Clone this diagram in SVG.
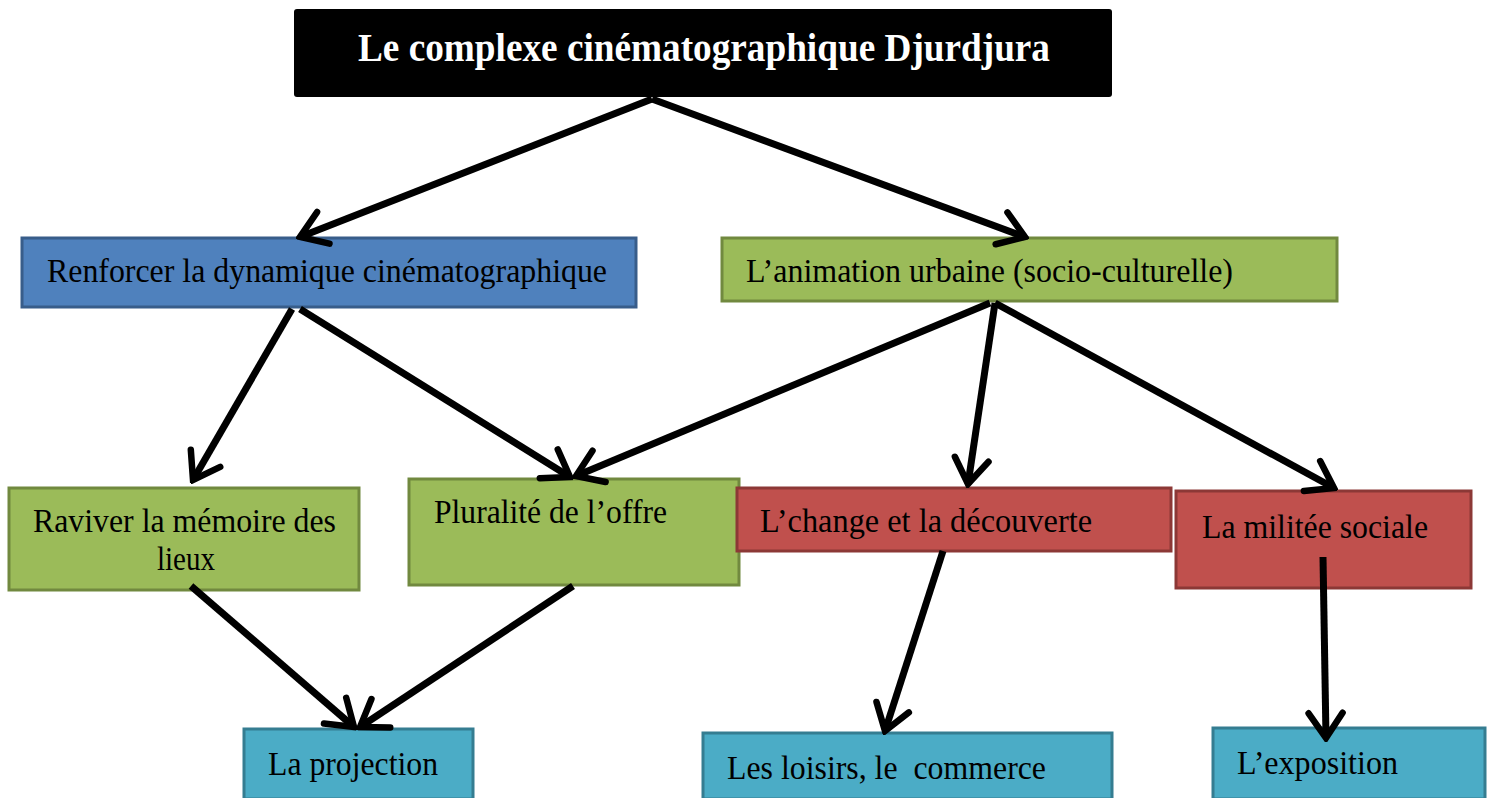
<svg xmlns="http://www.w3.org/2000/svg" width="1493" height="798" viewBox="0 0 1493 798">
<style>
.t{font-family:"Liberation Serif","Times New Roman",serif;font-size:34px;fill:#000}
.title{font-family:"Liberation Serif","Times New Roman",serif;font-size:39px;font-weight:bold;fill:#fff}
.blue{fill:#4F81BD;stroke:#385D8A;stroke-width:3}
.green{fill:#9BBB59;stroke:#71893F;stroke-width:3}
.red{fill:#C0504D;stroke:#8C3836;stroke-width:3}
.teal{fill:#4BACC6;stroke:#357D91;stroke-width:3}
.c{stroke:#000;stroke-width:7;fill:none;stroke-linecap:butt}
</style>
<defs>
<marker id="ah" markerUnits="userSpaceOnUse" viewBox="-32 -22 36 44" refX="0" refY="0" markerWidth="36" markerHeight="44" orient="auto">
<path d="M-25,-17 L0,0 L-25,17" fill="none" stroke="#000" stroke-width="6.5" stroke-linecap="round" stroke-linejoin="miter"/>
</marker>
</defs>
<rect width="1493" height="798" fill="#fff"/>
<g id="title">
<rect x="294" y="9" width="818" height="88" rx="3" fill="#000"/>
<text class="title" x="358" y="61" textLength="692" lengthAdjust="spacingAndGlyphs">Le complexe cinématographique Djurdjura</text>
</g>
<g id="renforcer">
<rect class="blue" x="22" y="238" width="614" height="69"/>
<text class="t" x="47" y="282" textLength="560" lengthAdjust="spacingAndGlyphs">Renforcer la dynamique cinématographique</text>
</g>
<g id="animation">
<rect class="green" x="722" y="238" width="615" height="63"/>
<text class="t" x="746" y="282" textLength="487" lengthAdjust="spacingAndGlyphs">L’animation urbaine (socio-culturelle)</text>
</g>
<g id="raviver">
<rect class="green" x="9" y="488" width="350" height="102"/>
<text class="t" x="33" y="532" textLength="303" lengthAdjust="spacingAndGlyphs">Raviver la mémoire des</text>
<text class="t" x="157" y="570" textLength="58" lengthAdjust="spacingAndGlyphs">lieux</text>
</g>
<g id="pluralite">
<rect class="green" x="409" y="479" width="330" height="106"/>
<text class="t" x="434" y="523" textLength="233" lengthAdjust="spacingAndGlyphs">Pluralité de l’offre</text>
</g>
<g id="change">
<rect class="red" x="737" y="488" width="434" height="63"/>
<text class="t" x="760" y="532" textLength="332" lengthAdjust="spacingAndGlyphs">L’change et la découverte</text>
</g>
<g id="militee">
<rect class="red" x="1176" y="491" width="295" height="97"/>
<text class="t" x="1202" y="538" textLength="226" lengthAdjust="spacingAndGlyphs">La militée sociale</text>
</g>
<g id="projection">
<rect class="teal" x="244" y="729" width="229" height="70"/>
<text class="t" x="268" y="775" textLength="170" lengthAdjust="spacingAndGlyphs">La projection</text>
</g>
<g id="loisirs">
<rect class="teal" x="703" y="733" width="409" height="66"/>
<text class="t" x="727" y="779" textLength="319" lengthAdjust="spacingAndGlyphs" xml:space="preserve">Les loisirs, le  commerce</text>
</g>
<g id="exposition">
<rect class="teal" x="1213" y="728" width="272" height="71"/>
<text class="t" x="1237" y="774" textLength="161" lengthAdjust="spacingAndGlyphs">L’exposition</text>
</g>
<g id="connectors">
<line class="c" x1="652" y1="99" x2="300" y2="237" marker-end="url(#ah)"/>
<line class="c" x1="652" y1="99" x2="1025" y2="237" marker-end="url(#ah)"/>
<line class="c" x1="292" y1="309" x2="193" y2="480" marker-end="url(#ah)"/>
<line class="c" x1="300" y1="309" x2="570" y2="477" marker-end="url(#ah)"/>
<line class="c" x1="990" y1="303" x2="576" y2="476" marker-end="url(#ah)"/>
<line class="c" x1="995" y1="303" x2="968" y2="484" marker-end="url(#ah)"/>
<line class="c" x1="995" y1="303" x2="1334" y2="488" marker-end="url(#ah)"/>
<line class="c" x1="191" y1="586" x2="354" y2="727" marker-end="url(#ah)"/>
<line class="c" x1="573" y1="586" x2="360" y2="727" marker-end="url(#ah)"/>
<line class="c" x1="943" y1="551" x2="885" y2="731" marker-end="url(#ah)"/>
<line class="c" x1="1323" y1="557" x2="1326" y2="738" marker-end="url(#ah)"/>
</g>
</svg>
